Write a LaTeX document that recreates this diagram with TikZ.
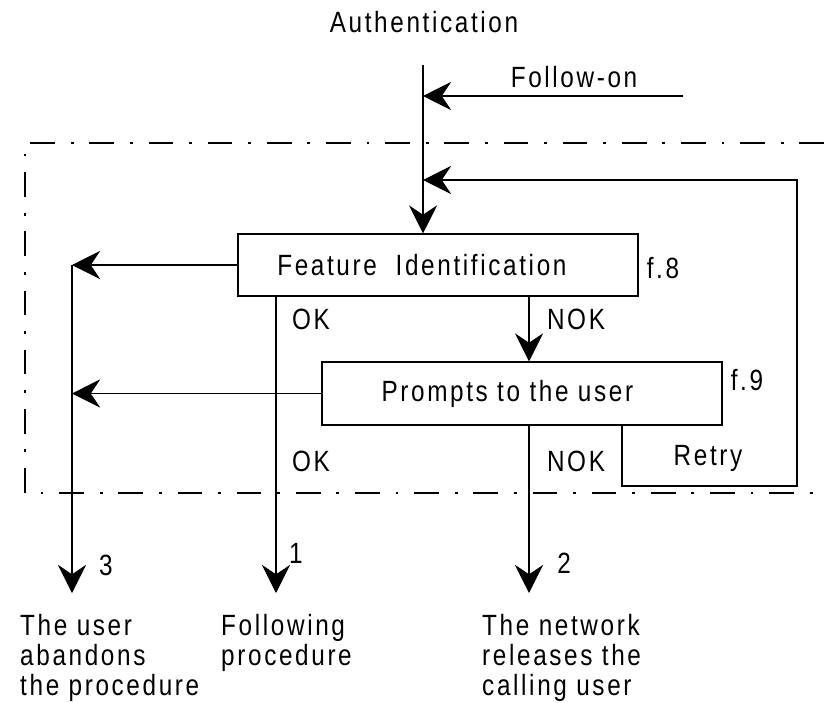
\documentclass[tikz,border=0pt]{standalone}
\usepackage{fontspec}
\setmainfont{Liberation Sans}[FakeStretch=0.83, LetterSpace=9]
\usetikzlibrary{arrows.meta}
\begin{document}
\begin{tikzpicture}[x=0.03cm, y=-0.03cm,
	main/.style={draw, line width=0.9pt, inner sep=0pt, minimum width=12cm},
	lbl/.style={inner sep=0pt, anchor=base},
	txt/.style={inner sep=0pt, anchor=north west, align=left},
	arr/.style={line width=0.9pt, -{Stealth[length=24pt, width=24pt, inset=8pt]}},
	frame/.style={line width=0.9pt, dash pattern=on 21pt off 13.5pt on 2.5pt off 13.5pt},
	font=\fontsize{25}{25.5}\selectfont]
	\useasboundingbox (0,0) rectangle (824,702);
	\node[main, minimum height=1.86cm] (fi) at (438,265) {Feature~~Identification\hspace*{1.1em}};
	\node[main, minimum height=1.89cm] (pu) at (522,393.5) {Prompts to the user\hspace*{1em}};
	\coordinate (top) at (423,65);
	\coordinate (fo) at (683,96);
	\coordinate (ret) at (423,180);
	\coordinate (rt) at (622,486);
	\coordinate (loop) at (797,486);
	\coordinate (c3) at (72,593);
	\coordinate (c1) at (276,593);
	\coordinate (c2) at (529,593);
	\draw[frame] (824,143) -- (25,143) -- (25,493) -- (824,493);
	\draw[arr] (top) -- (top |- fi.north);
	\draw[arr] (fo) -- (fo -| top);
	\draw[arr] (rt |- pu.south) -- (rt) -- (loop) -- (loop |- ret) -- (ret);
	\draw[arr] (fi.west) -- (fi.west -| c3);
	\draw[arr] (pu.west) -- (pu.west -| c3);
	\draw[arr] (fi.west -| c3) -- (c3);
	\draw[arr] (fi.south -| c1) -- (c1);
	\draw[arr] (fi.south -| c2) -- (pu.north -| c2);
	\draw[arr] (pu.south -| c2) -- (c2);
	\node[lbl] (auth) at (424,33) {Authentication};
	\node[lbl] (fol) at (574,87) {Follow-on};
	\node[lbl] (f8) at (663,278) {f.8};
	\node[lbl] (f9) at (747,390) {f.9};
	\node[lbl] (ok1) at (311,329) {OK};
	\node[lbl] (nok1) at (576,329) {NOK};
	\node[lbl] (ok2) at (311,471) {OK};
	\node[lbl] (nok2) at (576,471) {NOK};
	\node[lbl] (rtry) at (708,465) {Retry};
	\node[lbl] (n3) at (106,575) {3};
	\node[lbl] (n1) at (296,563) {1};
	\node[lbl] (n2) at (564,573) {2};
	\node[txt] (ab) at (20,614) {The user\\abandons\\the procedure};
	\node[txt] (fp) at (221,614) {Following\\procedure};
	\node[txt] (rel) at (482,614) {The network\\releases the\\calling user};
\end{tikzpicture}
\end{document}
